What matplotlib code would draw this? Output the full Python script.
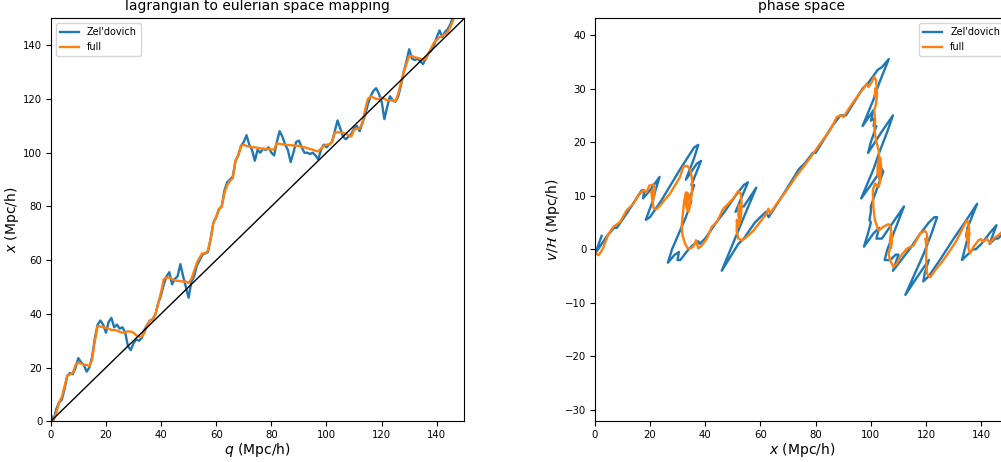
import numpy as np
import matplotlib
matplotlib.use("Agg")
import matplotlib.pyplot as plt

# lagrangian coordinate q (Mpc/h)
q = np.arange(0, 148)

# Zel'dovich eulerian positions x(q)
zel_x = [2.5, 0.3, 4.5, 7, 8, 12, 17, 18, 17.5, 20,
         23.5, 22, 21, 18.5, 20, 24, 31, 36, 37.5, 36,
         33, 37, 38.5, 35, 36, 34.5, 35, 33, 28, 26.5,
         29, 30.5, 30, 31, 34, 36, 37.5, 38, 40, 44,
         47, 51, 54, 55.5, 51, 53, 54, 58.5, 54, 50,
         46, 52, 54, 58, 60, 62, 62.5, 63, 68, 74,
         76, 79, 80, 86, 89, 90, 91, 97, 99, 102.5,
         104, 106.5, 103, 101, 97, 101, 100, 101.5, 101, 102,
         100, 99, 104, 108, 106, 103, 101, 96.5, 100, 104,
         104.5, 102, 100, 100, 99.5, 100, 99, 97.5, 101, 103,
         102, 103, 104, 108, 112, 109, 106, 105, 106, 107,
         109, 110, 108, 111, 114, 118, 121, 123, 124, 122,
         119, 112.5, 117, 121, 119.5, 119, 121, 125, 130, 134,
         138.5, 135, 134.5, 135, 134, 133, 135, 137, 138, 140,
         143, 145.5, 143, 145, 146, 148, 151, 153]

# Zel'dovich velocities v/H at the same points
zel_v = [2.5, -0.7, 2.5, 4, 4, 7, 11, 11, 9.5, 11,
         13.5, 11, 9, 5.5, 6, 9, 15, 19, 19.5, 17,
         13, 16, 16.5, 12, 12, 9.5, 9, 6, 0, -2.5,
         -1, -0.5, -2, -2, 0, 1, 1.5, 1, 2, 5,
         7, 10, 12, 12.5, 7, 8, 8, 11.5, 6, 1,
         -4, 1, 2, 5, 6, 7, 6.5, 6, 10, 15,
         16, 18, 18, 23, 25, 25, 25, 30, 31, 33.5,
         34, 35.5, 31, 28, 23, 26, 24, 24.5, 23, 23,
         20, 18, 22, 25, 22, 18, 15, 9.5, 12, 15,
         14.5, 11, 8, 7, 5.5, 5, 3, 0.5, 3, 4,
         2, 2, 2, 5, 8, 4, 0, -2, -2, -2,
         -1, -1, -4, -2, 0, 3, 5, 6, 6, 3,
         -1, -8.5, -5, -2, -4.5, -6, -5, -2, 2, 5,
         8.5, 4, 2.5, 2, 0, -2, -1, 0, 0, 1,
         3, 4.5, 1, 2, 2, 3, 5, 6]

# full solution x(q)
full_x = [0, 0.5, 3, 7, 9, 13, 17, 17.5, 18, 21,
          21.8, 21.5, 21, 21, 20.5, 23, 30, 35.5, 35.3, 35,
          34.8, 34.5, 34, 34, 33.8, 33.3, 33, 33.2, 33.5, 33.4,
          33, 32, 31.5, 31.5, 33, 36, 37.5, 38, 40, 44,
          48, 53, 53.5, 53.5, 53, 52.5, 52.3, 52.2, 52, 52,
          51.5, 53, 56, 59, 61, 62.5, 62.5, 63.5, 68, 74,
          76, 79, 80, 85, 88, 89.5, 90.5, 97, 99, 102.5,
          103, 102.5, 102.3, 102, 102, 101.8, 101.6, 101.5, 101.4, 101.3,
          101.2, 101.2, 103.5, 103.3, 103.1, 103, 102.9, 102.8, 102.7, 102.6,
          102.5, 102.2, 102, 101.7, 101.4, 101.1, 100.7, 100.5, 101.5, 102.5,
          103, 103, 104, 107.5, 107.6, 107.6, 107.4, 107, 106.5, 106,
          108.5, 109, 109, 111, 116, 120, 121, 120.5, 120, 120,
          120.5, 120, 119.5, 119.5, 119.5, 119, 122, 126, 130, 133,
          136, 136, 135.5, 135.3, 135, 134.5, 135, 137, 139, 141,
          142, 143, 143.5, 144, 145, 147, 149.5, 152]

# full solution in phase space (x, v/H)
full_px = [0.5, 1.4, 2.2, 3.1, 4.2, 5, 6.8, 9.2, 10.5, 11.6,
           14, 15.8, 17.6, 18.8, 19.8, 21.2, 21.8, 21.5, 20.8, 20.5,
           21, 21.4, 21, 21.4, 22.4, 23.7, 27.3, 30.9, 32.1, 33.2,
           33.9, 34.8, 35.3, 35.2, 34.6, 34, 33.2, 33, 33.4, 34.1,
           34.3, 33.8, 33.3, 33.6, 33.0, 32.4, 31.9, 31.5, 31.8, 32.7,
           33.6, 34.5, 35.7, 36.7, 37.5, 38.8, 40.6, 42.4, 44.2, 46.6,
           48.4, 50.2, 52, 52.9, 53.2, 53, 52.5, 52, 52.2, 52.7,
           52.6, 52, 51.5, 51.4, 52, 53.2, 55, 57.5, 59.9, 62.3,
           62.9, 63.5, 65.9, 69.5, 73.2, 75.6, 79.2, 81.6, 85.2, 87.7,
           88.9, 90.1, 92.5, 94.9, 97.3, 98.5, 99.1, 100.3, 101.2, 101.9,
           102.2, 101.4, 101.6, 102.3, 101.8, 101.2, 101.6, 101.3, 101.5, 101.9,
           102.8, 103.1, 102.5, 102.4, 103.2, 103.8, 103.4, 102.9, 103.4, 103.3,
           102.8, 101.5, 100.7, 100.9, 101.5, 102.8, 104.5, 106.4, 107.2, 107.6,
           107.3, 106.9, 107.3, 107.7, 107.2, 106.4, 107, 108.2, 109.4, 110.6,
           113, 115.4, 117.8, 119.6, 120.3, 120.5, 119.8, 120.2, 120, 120.1,
           120.3, 121.5, 123.3, 125.7, 128.7, 131.1, 133.5, 134.7, 135.3, 135.7,
           135.2, 134.6, 135, 135.4, 135.3, 135.9, 137.1, 139, 139.8, 140.8,
           142, 143.2, 144.4, 146.8, 149]
full_pv = [-0.8, -1.1, -0.5, 0.3, 1.8, 2.9, 4.2, 5.1, 6.3, 7.3,
           8.5, 10.1, 11, 10.7, 11.9, 12.1, 11.4, 10, 9.4, 10.6,
           11.2, 10.2, 8.6, 7.6, 7.5, 8.2, 10.4, 13.5, 15.4, 15.6,
           15.4, 14.5, 12.8, 10.5, 8.5, 7, 7.8, 9.5, 10.6, 10.2,
           8.8, 7.6, 8.7, 10, 10.6, 9, 6.5, 4.5, 2.6, 1.1,
           0.2, 0.1, 0.5, 1.7, 0.2, 0.7, 2, 4.2, 5.1, 7.6,
           8.5, 9.5, 10.9, 10.4, 8.5, 6.5, 5, 6.5, 8.3, 7.5,
           5.2, 4.2, 5.5, 3.5, 2, 1.7, 2.3, 3.5, 5.1, 6.7,
           7.6, 6.7, 8.5, 11, 13.8, 15.4, 17.9, 19.7, 22.2, 24.7,
           25, 24.7, 26.6, 28.4, 30, 30.9, 30.3, 31.2, 32.2, 31.5,
           29.5, 28.5, 30, 29, 27, 25.9, 24, 22.5, 21.6, 20.3,
           18.5, 17.2, 16, 14, 13, 15, 17, 15.5, 13.4, 12.5,
           11.6, 12.3, 11, 7.9, 5.4, 3.5, 4.2, 4.7, 4.2, 1.7,
           0.3, 1.5, 3, 2.5, 0.6, -0.8, -2.1, -3.3, -2.7, -1.4,
           0.1, 0.7, 2.9, 3.5, 2.9, 1.2, 2, 0, -0.8, -3,
           -4.5, -5.2, -3.9, -2.4, -0.2, 1.7, 4.2, 5.4, 5.1, 2.9,
           1.3, 2.3, 3.6, 1, 0.4, -0.8, 0.4, 1.7, 1.9, 1.4,
           2, 1.1, 2, 2.9, 4]

L = 150

fig = plt.figure(figsize=(10.01, 4.62), dpi=100)

ax1 = fig.add_axes([0.0507, 0.0881, 0.4132, 0.8721])
ax1.plot(q, zel_x, color="C0", lw=1.7, label="Zel'dovich")
ax1.plot(q, full_x, color="C1", lw=1.7, label="full")
ax1.plot([0, L], [0, L], color="k", lw=1)
ax1.set_xlim(0, L)
ax1.set_ylim(0, L)
ax1.set_xlabel("$q$ (Mpc/h)", fontsize=10, labelpad=1)
ax1.set_ylabel("$x$ (Mpc/h)", fontsize=10, labelpad=2)
ax1.set_title("lagrangian to eulerian space mapping", fontsize=10)
ax1.tick_params(labelsize=7.3, pad=2.5)
ax1.legend(loc="upper left", fontsize=7)

ax2 = fig.add_axes([0.5941, 0.0881, 0.4138, 0.8721])
ax2.plot(zel_x, zel_v, color="C0", lw=1.7, label="Zel'dovich")
ax2.plot(full_px, full_pv, color="C1", lw=1.7, label="full")
ax2.set_xlim(0, L)
ax2.set_ylim(-32.1, 43.1)
ax2.set_xlabel("$x$ (Mpc/h)", fontsize=10, labelpad=1)
ax2.set_ylabel("$v/\\mathcal{H}$ (Mpc/h)", fontsize=10, labelpad=2)
ax2.set_title("phase space", fontsize=10)
ax2.tick_params(labelsize=7.3, pad=2.5)
ax2.legend(loc="upper right", fontsize=7)

fig.savefig("out.png", dpi=100)
